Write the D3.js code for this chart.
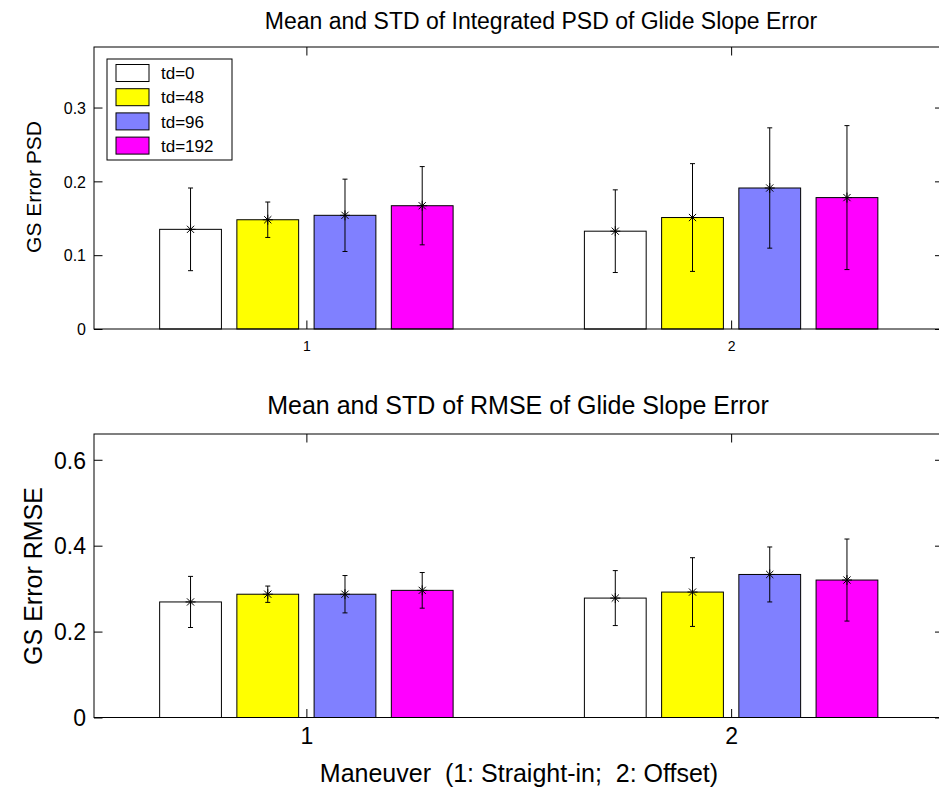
<!DOCTYPE html>
<html>
<head>
<meta charset="utf-8">
<script src="https://cdn.jsdelivr.net/npm/d3@7/dist/d3.min.js"></script>
<style>
  html, body { margin: 0; padding: 0; background: #fff; }
  svg { display: block; }
  text { font-family: "Liberation Sans", Arial, Helvetica, sans-serif; fill: #000; }
</style>
</head>
<body>
<svg id="chart" width="939" height="787"></svg>
<script>
// ---- data ----
const categories = [1, 2];
const seriesNames = ["td=0", "td=48", "td=96", "td=192"];
const seriesColors = ["#ffffff", "#ffff00", "#8080ff", "#ff00ff"];
// Integrated PSD: mean and std per category (rows) per series (columns)
const psdMean = [[0.135, 0.148, 0.154, 0.167], [0.1325, 0.151, 0.191, 0.178]];
const psdStd  = [[0.056, 0.024, 0.049, 0.053], [0.056, 0.073, 0.0815, 0.0975]];
// RMSE: mean and std
const rmseMean = [[0.269, 0.287, 0.287, 0.296], [0.278, 0.292, 0.333, 0.320]];
const rmseStd  = [[0.0595, 0.019, 0.0435, 0.0415], [0.064, 0.080, 0.064, 0.0955]];
const psdTicks = [0, 0.1, 0.2, 0.3];
const rmseTicks = [0, 0.2, 0.4, 0.6];

const svg = d3.select("#chart");
const nSeries = seriesNames.length;
// MATLAB grouped bar layout
const groupWidth = Math.min(0.8, nSeries / (nSeries + 1.5));
const step = groupWidth / nSeries;
const barW = step * 0.8;
const offsets = d3.range(nSeries).map(i => (i - (nSeries - 1) / 2) * step);

function panel(opt) {
  const x = d3.scaleLinear().domain([0.5, 2.5]).range([opt.left, opt.right]);
  const y = d3.scaleLinear().domain([0, opt.ymax]).range([opt.bottom, opt.top]);
  const g = svg.append("g");
  const tl = 8.5;

  const rows = [];
  categories.forEach((c, ci) => {
    seriesNames.forEach((s, si) => {
      rows.push({ c, si, m: opt.mean[ci][si], sd: opt.std[ci][si] });
    });
  });
  g.selectAll("rect.bar").data(rows).join("rect")
    .attr("class", "bar")
    .attr("x", d => x(d.c + offsets[d.si] - barW / 2))
    .attr("width", d => x(d.c + offsets[d.si] + barW / 2) - x(d.c + offsets[d.si] - barW / 2))
    .attr("y", d => y(d.m))
    .attr("height", d => y(0) - y(d.m))
    .attr("fill", d => seriesColors[d.si])
    .attr("stroke", "#000").attr("stroke-width", 1);

  const cap = 2.5;
  const eb = g.selectAll("g.eb").data(rows).join("g").attr("class", "eb")
    .attr("stroke", "#000").attr("stroke-width", 1).attr("fill", "none");
  eb.append("line")
    .attr("x1", d => x(d.c + offsets[d.si])).attr("x2", d => x(d.c + offsets[d.si]))
    .attr("y1", d => y(d.m - d.sd)).attr("y2", d => y(d.m + d.sd));
  eb.append("line")
    .attr("x1", d => x(d.c + offsets[d.si]) - cap).attr("x2", d => x(d.c + offsets[d.si]) + cap)
    .attr("y1", d => y(d.m + d.sd)).attr("y2", d => y(d.m + d.sd));
  eb.append("line")
    .attr("x1", d => x(d.c + offsets[d.si]) - cap).attr("x2", d => x(d.c + offsets[d.si]) + cap)
    .attr("y1", d => y(d.m - d.sd)).attr("y2", d => y(d.m - d.sd));
  const r = 5;
  eb.append("path")
    .attr("d", d => {
      const cx = x(d.c + offsets[d.si]), cy = y(d.m), q = r * 0.72;
      return `M${cx - r},${cy}L${cx + r},${cy}M${cx},${cy - r}L${cx},${cy + r}` +
             `M${cx - q},${cy - q}L${cx + q},${cy + q}M${cx - q},${cy + q}L${cx + q},${cy - q}`;
    });

  const yl = g.append("g").attr("transform", `translate(${opt.left},0)`)
    .call(d3.axisLeft(y).tickValues(opt.ticks).tickFormat(d3.format("")).tickSize(-tl).tickPadding(8));
  yl.selectAll("text").attr("font-size", opt.tickFont).attr("dy", "0.36em");
  const yr = g.append("g").attr("transform", `translate(${opt.right},0)`)
    .call(d3.axisRight(y).tickValues(opt.ticks).tickSize(-tl).tickFormat(""));
  const xb = g.append("g").attr("transform", `translate(0,${opt.bottom})`)
    .call(d3.axisBottom(x).tickValues(categories).tickFormat(d3.format("d")).tickSize(-tl).tickPadding(opt.xPad));
  xb.selectAll("text").attr("font-size", opt.xTickFont);
  const xt = g.append("g").attr("transform", `translate(0,${opt.top})`)
    .call(d3.axisTop(x).tickValues(categories).tickSize(-tl).tickFormat(""));
  [yl, yr, xb, xt].forEach(a => {
    a.select(".domain").remove();
    a.selectAll("line").attr("stroke", "#000");
    a.selectAll("text").attr("fill", "#000").attr("font-family", "Liberation Sans, Arial, sans-serif");
  });
  g.append("rect")
    .attr("x", opt.left).attr("y", opt.top)
    .attr("width", opt.right - opt.left).attr("height", opt.bottom - opt.top)
    .attr("fill", "none").attr("stroke", "#000").attr("stroke-width", 1);

  g.append("text").attr("x", opt.titleX).attr("y", opt.titleY)
    .attr("text-anchor", "middle").attr("font-size", opt.titleFont).text(opt.title);
  g.append("text")
    .attr("transform", `translate(${opt.ylabX},${opt.ylabY}) rotate(-90)`)
    .attr("text-anchor", "middle").attr("font-size", opt.ylabFont).text(opt.ylabel);
  return { x, y, g };
}

panel({
  left: 94, right: 943.5, top: 47, bottom: 329, ymax: 0.382,
  mean: psdMean, std: psdStd, ticks: psdTicks,
  tickFont: 16, xTickFont: 14, xPad: 12,
  title: "Mean and STD of Integrated PSD of Glide Slope Error", titleX: 541, titleY: 29, titleFont: 23,
  ylabel: "GS Error PSD", ylabX: 41, ylabY: 187, ylabFont: 21
});

panel({
  left: 94, right: 943.5, top: 434, bottom: 717.5, ymax: 0.66,
  mean: rmseMean, std: rmseStd, ticks: rmseTicks,
  tickFont: 23, xTickFont: 23, xPad: 10,
  title: "Mean and STD of RMSE of Glide Slope Error", titleX: 518, titleY: 414, titleFont: 25,
  ylabel: "GS Error RMSE", ylabX: 42, ylabY: 576, ylabFont: 25
});

svg.append("text").attr("x", 519).attr("y", 782).attr("text-anchor", "middle")
  .attr("font-size", 25).style("white-space", "pre")
  .text("Maneuver  (1: Straight-in;  2: Offset)");

const lg = svg.append("g").attr("transform", "translate(107,59)");
lg.append("rect").attr("x", 0).attr("y", 0).attr("width", 125).attr("height", 101)
  .attr("fill", "#fff").attr("stroke", "#000");
const items = lg.selectAll("g.item").data(seriesNames).join("g").attr("class", "item")
  .attr("transform", (d, i) => `translate(9,${14 + i * 24.2})`);
items.append("rect").attr("x", 0).attr("y", -8.5).attr("width", 33).attr("height", 17)
  .attr("fill", (d, i) => seriesColors[i]).attr("stroke", "#000");
items.append("text").attr("x", 45).attr("y", 0).attr("dy", "0.36em")
  .attr("font-size", 17).text(d => d);
</script>
</body>
</html>
